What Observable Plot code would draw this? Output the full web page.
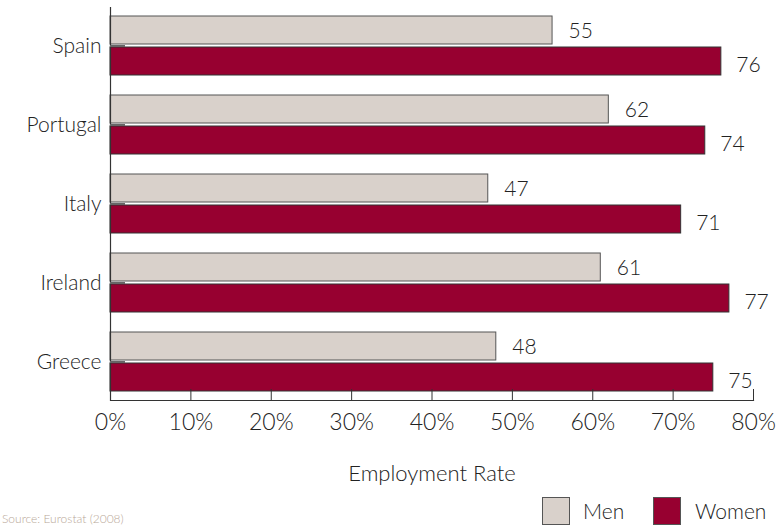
<!DOCTYPE html>
<html>
<head>
<meta charset="utf-8">
<script src="https://cdn.jsdelivr.net/npm/d3@7"></script>
<script src="https://cdn.jsdelivr.net/npm/@observablehq/plot@0.6"></script>
<style>
  html, body { margin: 0; padding: 0; background: #fff; overflow: hidden; }
  body { width: 776px; height: 527px; position: relative; font-family: Lato, "Open Sans", sans-serif; font-weight: 300; color: #222; }
  #legend { position: absolute; left: 0; top: 497px; width: 776px; height: 30px; }
  .sw { position: absolute; top: 0; width: 28px; height: 28px; box-sizing: border-box; border: 1px solid #555; }
  .lt { position: absolute; top: 1px; font-size: 21px; line-height: 26px; color: #222; font-weight: 300; }
  #source { position: absolute; left: 2px; top: 511px; font-size: 12px; color: #b9a898; white-space: nowrap; font-weight: 300; }
</style>
</head>
<body>
<div id="chart"></div>
<div id="legend"></div>
<div id="source">Source: Eurostat (2008)</div>
<script>
const countries = ["Spain", "Portugal", "Italy", "Ireland", "Greece"];
const men = [55, 62, 47, 61, 48];
const women = [76, 74, 71, 77, 75];
const xTicks = [0, 10, 20, 30, 40, 50, 60, 70, 80];
const seriesNames = ["Men", "Women"];
const seriesColors = ["#d9d1cb", "#970030"];

const menData = countries.map((c, i) => ({country: c, value: men[i]}));
const womenData = countries.map((c, i) => ({country: c, value: women[i]}));

const plot = Plot.plot({
  width: 776,
  height: 492,
  marginLeft: 110,
  marginRight: 23,
  marginTop: 7,
  marginBottom: 92,
  style: {fontFamily: "Lato, 'Open Sans', sans-serif", fontWeight: 300, fontSize: "21px", color: "#222", background: "#fff"},
  x: {domain: [0, 80], ticks: xTicks},
  y: {domain: countries, paddingInner: 0.25, paddingOuter: 0.1},
  marks: [
    Plot.barX(menData, {y: "country", x: "value", fill: seriesColors[0], stroke: "#555", strokeWidth: 1, insetBottom: 31}),
    Plot.barX(womenData, {y: "country", x: "value", fill: seriesColors[1], stroke: "#333", strokeWidth: 1, insetTop: 31}),
    Plot.text(menData, {y: "country", x: "value", text: d => String(d.value), dx: 16, dy: -15, textAnchor: "start", fill: "#222", fontSize: 21, fontWeight: 300}),
    Plot.text(womenData, {y: "country", x: "value", text: d => String(d.value), dx: 15, dy: 19, textAnchor: "start", fill: "#222", fontSize: 21, fontWeight: 300}),
    Plot.ruleX([0], {stroke: "#333", strokeWidth: 1.2}),
    Plot.frame({anchor: "bottom", stroke: "#333", strokeWidth: 1.2}),
    Plot.axisY({tickSize: 0, tickPadding: 9, fontSize: 21, fontWeight: 300, fill: "#222", label: null}),
    Plot.axisY({tickSize: -15, stroke: "#666", strokeWidth: 2, text: null, label: null}),
    Plot.axisX({ticks: xTicks, tickSize: -11, stroke: "#333", tickPadding: 24, tickFormat: d => d + "%", fontSize: 23, fontWeight: 300, fill: "#222", label: null}),
    Plot.axisX({ticks: [], tickSize: 0, label: "Employment Rate", labelAnchor: "center", labelArrow: "none", labelOffset: 80, fontSize: 22, fontWeight: 300, fill: "#222"})
  ]
});
document.getElementById("chart").appendChild(plot);

const legend = document.getElementById("legend");
const swX = [542, 653];
const txX = [583, 695];
seriesNames.forEach((n, i) => {
  const s = document.createElement("div");
  s.className = "sw";
  s.style.left = swX[i] + "px";
  s.style.background = seriesColors[i];
  legend.appendChild(s);
  const t = document.createElement("div");
  t.className = "lt";
  t.style.left = txX[i] + "px";
  t.textContent = n;
  legend.appendChild(t);
});
</script>
</body>
</html>
